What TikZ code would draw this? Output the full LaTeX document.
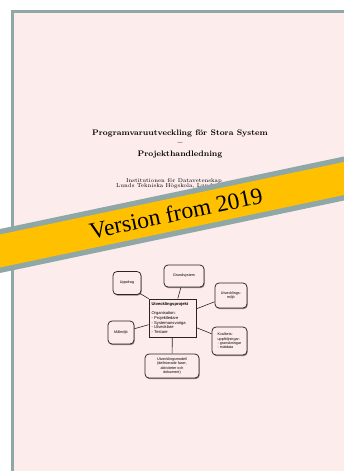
\documentclass[tikz,border=0pt]{standalone}
\usepackage{fontspec}
\newfontfamily\ribbonfont{Liberation Serif}
\newfontfamily\diagfont{Liberation Sans}
\usetikzlibrary{shadows}
\definecolor{pagefill}{RGB}{253,236,236}
\definecolor{pageedge}{RGB}{143,167,167}
\definecolor{bandyellow}{RGB}{255,192,0}
\definecolor{boxline}{RGB}{45,35,35}
\begin{document}
\begin{tikzpicture}[x=1pt,y=-1pt,
  topic/.style={draw=boxline, line width=0.75pt, rounded corners=4pt, fill=pagefill,
    drop shadow={shadow xshift=0.7pt, shadow yshift=-1.1pt, fill=black!75, opacity=0.6},
    align=center, inner sep=0pt, font=\diagfont\fontsize{3.7}{4.4}\selectfont},
  hub/.style={topic, rounded corners=0pt, align=left, text width=42pt, inner sep=2.5pt,
    font=\diagfont\fontsize{4.1}{4.9}\selectfont},
  link/.style={draw=boxline, line width=0.6pt},
  titletext/.style={anchor=base, inner sep=0pt, font=\fontsize{8}{9.6}\selectfont\bfseries},
  smalltext/.style={anchor=base, inner sep=0pt, font=\fontsize{5.6}{6.7}\selectfont}]
\useasboundingbox (0,0) rectangle (344,471);
\clip (0,0) rectangle (344,471);
\fill[white] (0,0) rectangle (344,471);

% the sheet
\draw[pageedge, line width=2.4pt, fill=pagefill] (12.5,11.5) rectangle (400,520);

% title block
\node[titletext] (title) at (180,135) {Programvaruutveckling för Stora System};
\node[titletext] (dash) at (180,145.5) {--};
\node[titletext] (sub) at (180,156) {Projekthandledning};
\node[smalltext] (dept) at (174,182) {Institutionen för Datavetenskap};
\node[smalltext, anchor=base west] (univ) at (116,187.5) {Lunds Tekniska Högskola, Lund};

% diagram
\node[hub, minimum width=47pt, minimum height=38pt] (proj) at (172.5,318)
  {\textbf{Utvecklingsprojekt}\\[4.3pt]Organisation:\\- Projektledare\\- Systemansvariga\\- Utvecklare\\- Testare};
\node[topic, minimum width=28pt, minimum height=23pt] (upp) at (127,283) {Uppdrag};
\node[topic, minimum width=40pt, minimum height=22pt] (grund) at (184,276) {Grundsystem};
\node[topic, minimum width=32pt, minimum height=25pt] (umiljo) at (231,295.5) {Utvecklings-\\miljö};
\node[topic, minimum width=26pt, minimum height=23pt] (mal) at (121,332.5) {Målmiljö};
\node[topic, minimum width=35pt, minimum height=28pt, align=left] (kval) at (229.5,341)
  {Kvalitets-\\uppföljningar:\\- granskningar\\- mätdata};
\node[topic, minimum width=54pt, minimum height=24pt] (modell) at (172,366)
  {Utvecklingsmodell\\(definierade faser,\\aktiviteter och\\dokument)};

% connectors from the hub to each topic
\draw[link] (upp.south east) ++(-1.5,-1.5) -- (proj.north west);
\draw[link] (grund) -- (proj);
\draw[link] (umiljo) -- (proj);
\draw[link] (mal) -- (proj);
\draw[link] (kval) -- (proj);
\draw[link] (modell) -- (proj);

% diagonal banner
\fill[pageedge] (-5,230.05) -- (349,155.43) -- (349,199.43) -- (-5,274.05) -- cycle;
\fill[bandyellow] (-5,235.55) -- (349,160.93) -- (349,193.93) -- (-5,268.55) -- cycle;
\node[rotate=11.9, inner sep=0pt, font=\ribbonfont\fontsize{23.5}{28}\selectfont] (banner) at (176,213) {Version from 2019};
\end{tikzpicture}
\end{document}
